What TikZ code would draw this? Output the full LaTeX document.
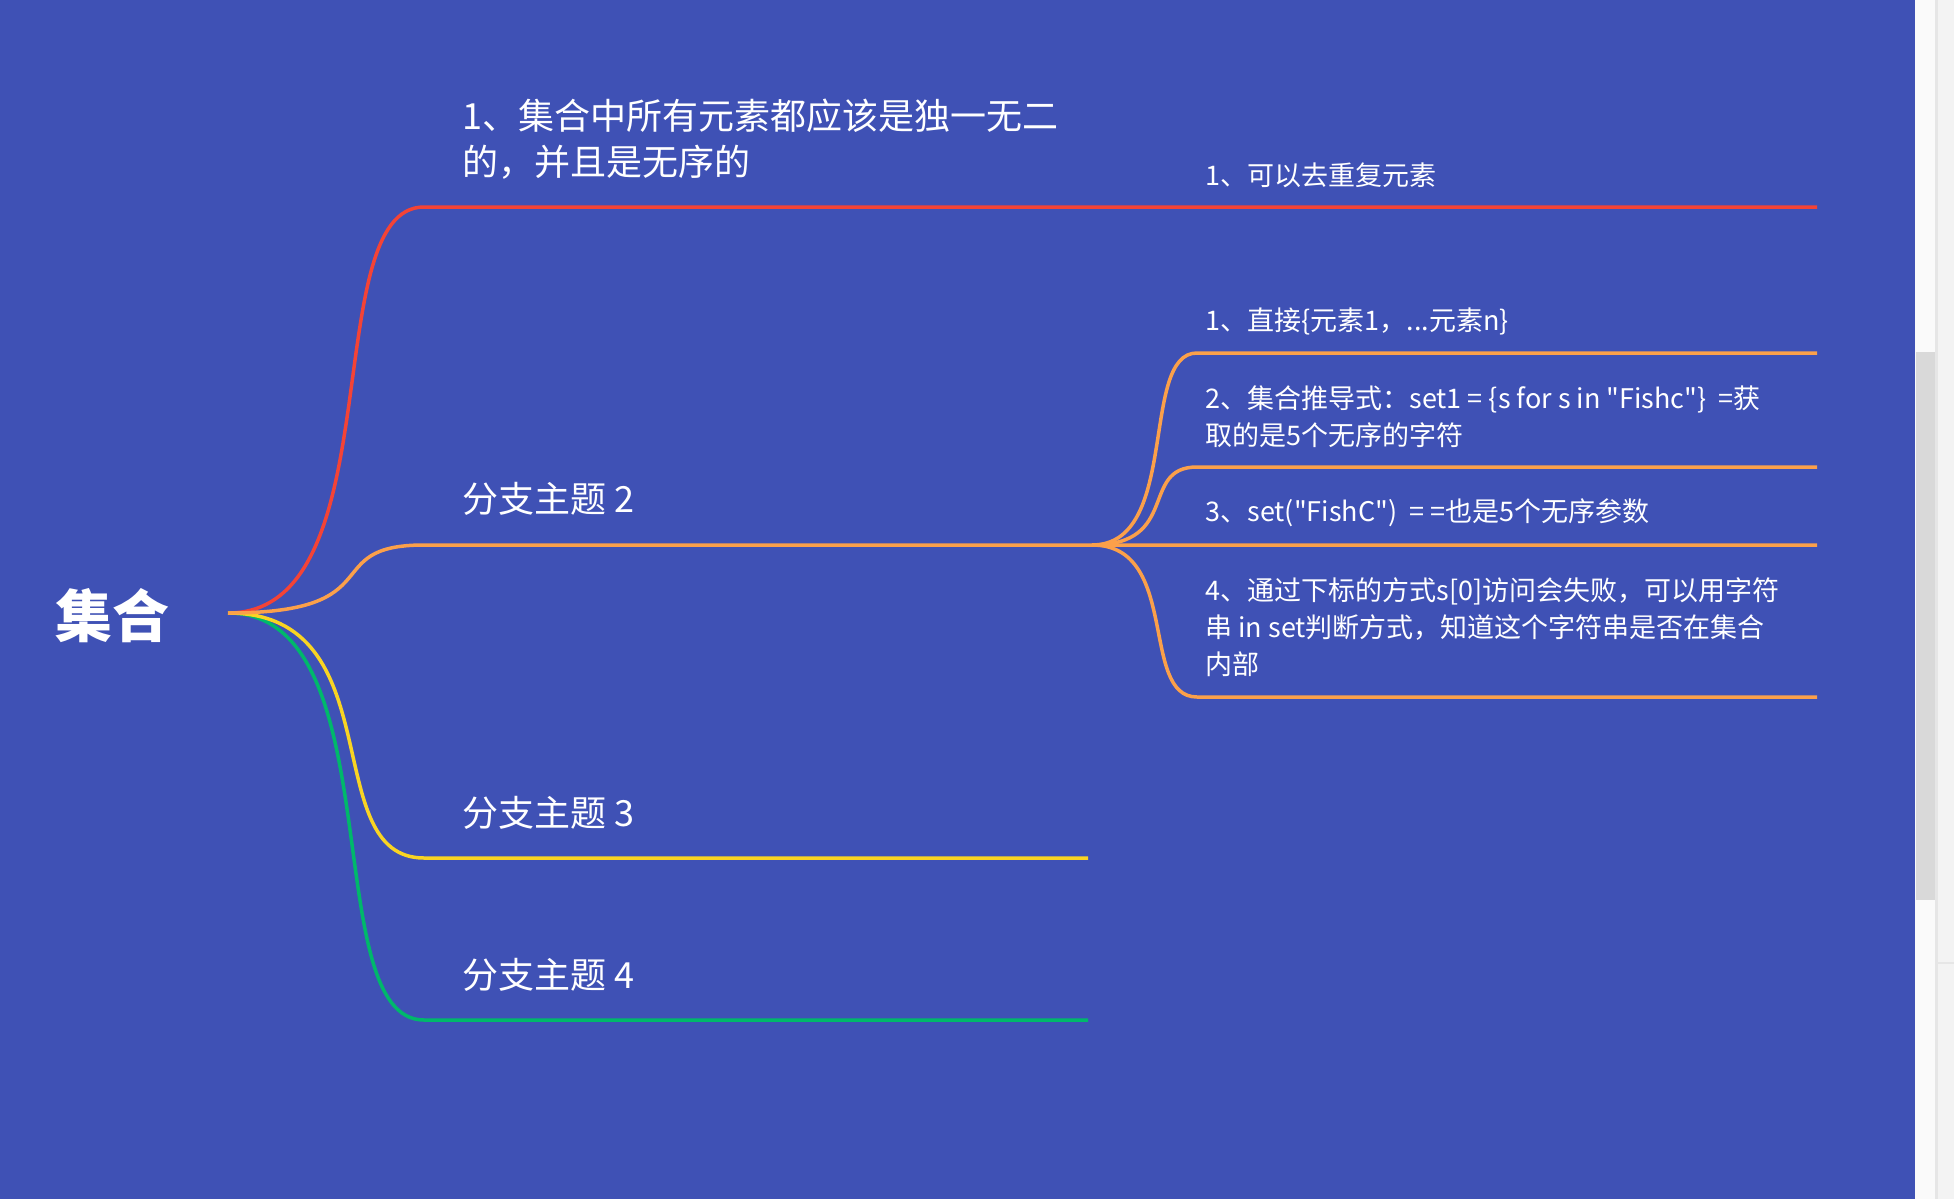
\documentclass[tikz,border=0pt]{standalone}
\usepackage{fontspec}
\setmainfont{Noto Sans CJK SC}[Ligatures=TeXOff]
\definecolor{bgblue}{HTML}{3F51B5}
\definecolor{cred}{HTML}{F44336}
\definecolor{corange}{HTML}{FBA04A}
\definecolor{cyellow}{HTML}{F9D423}
\definecolor{cgreen}{HTML}{00B86B}
\definecolor{sbtrack}{HTML}{FAFAFA}
\definecolor{sbthumb}{HTML}{D9D9D9}
\definecolor{sbline}{HTML}{E6E6E6}
\definecolor{sbside}{HTML}{F3F3F3}
\begin{document}
\begin{tikzpicture}[x=0.5pt,y=-0.5pt,
  br/.style={line width=1.75pt},
  lbl/.style={anchor=north west, inner sep=0pt, text=white, align=left, font=\fontsize{18}{23}\selectfont},
  sublbl/.style={anchor=north west, inner sep=0pt, text=white, align=left, font=\fontsize{13.5}{18.5}\selectfont},
  rootlbl/.style={inner sep=0pt, text=white, font=\fontsize{28.5}{32}\selectfont\bfseries},
]
\useasboundingbox (0,0) rectangle (1954,1199);
\fill[bgblue] (0,0) rectangle (1954,1199);
% scrollbar area
\fill[sbtrack] (1915,0) rectangle (1935,1199);
\fill[sbthumb] (1916,352) rectangle (1935,900);
\fill[sbline] (1935,0) rectangle (1938,1199);
\fill[sbside] (1938,0) rectangle (1954,1199);
\draw[sbline, line width=1pt] (1938,963) -- (1954,963);

% root
\node[rootlbl] (root) at (112,616) {集合};
\coordinate (j) at (228,613);

% branch coordinates
\coordinate (b1s) at (424,207);  \coordinate (b1e) at (1817,207);
\coordinate (b2s) at (424,545);  \coordinate (b2e) at (1817,545);
\coordinate (b3s) at (424,858);  \coordinate (b3e) at (1088,858);
\coordinate (b4s) at (424,1020); \coordinate (b4e) at (1088,1020);
\coordinate (o) at (1092,545);
\coordinate (s1s) at (1197,353); \coordinate (s1e) at (1817,353);
\coordinate (s2s) at (1197,467); \coordinate (s2e) at (1817,467);
\coordinate (s4s) at (1197,697); \coordinate (s4e) at (1817,697);

% main branches
\draw[br, cred] (j) .. controls +(167,0) and +(-108,0) .. (b1s) -- (b1e);
\draw[br, cgreen] (j) .. controls +(167,0) and +(-108,0) .. (b4s) -- (b4e);
\draw[br, cyellow] (j) .. controls +(167,0) and +(-108,0) .. (b3s) -- (b3e);
\draw[br, corange] (j) .. controls +(167,0) and +(-108,0) .. (b2s) -- (b2e);

% sub branches of branch 2
\draw[br, corange] (o) .. controls +(89,0) and +(-58,0) .. (s1s) -- (s1e);
\draw[br, corange] (o) .. controls +(89,0) and +(-58,0) .. (s2s) -- (s2e);
\draw[br, corange] (o) .. controls +(89,0) and +(-58,0) .. (s4s) -- (s4e);

% labels
\node[lbl] (t1) at (462,99) {1、集合中所有元素都应该是独一无二\\的，并且是无序的};
\node[sublbl] (t1a) at (1205,162.5) {1、可以去重复元素};
\node[lbl] (t2) at (462,482) {分支主题 2};
\node[sublbl] (c1) at (1205,307.5) {1、直接\{元素1，...元素n\}};
\node[sublbl] (c2) at (1205,385.5) {2、集合推导式：set1 = \{s for s in "Fishc"\}~ =获\\取的是5个无序的字符};
\node[sublbl] (c3) at (1205,498.5) {3、set("FishC")~ = =也是5个无序参数};
\node[sublbl] (c4) at (1205,577.5) {4、通过下标的方式s[0]访问会失败，可以用字符\\串 in set判断方式，知道这个字符串是否在集合\\内部};
\node[lbl] (t3) at (462,796) {分支主题 3};
\node[lbl] (t4) at (462,958) {分支主题 4};
\end{tikzpicture}
\end{document}
